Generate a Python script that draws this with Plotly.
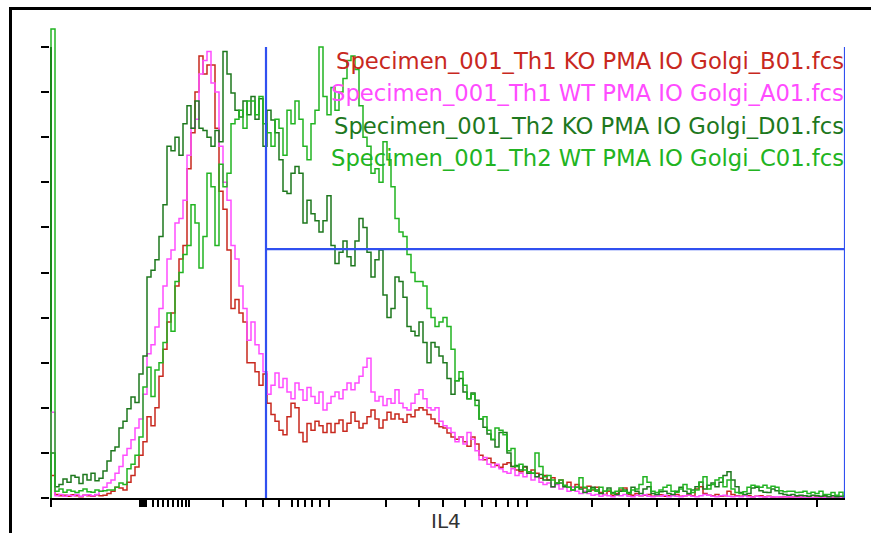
import plotly.graph_objects as go

# ---------------- data (histogram counts, % of max, one value per channel bin) -------------
n_bins = 199

th1_ko = [  # red  Specimen_001_Th1 KO PMA IO Golgi_B01.fcs
    5.0, 0.8, 0.5, 0.6, 0.4, 0.7, 0.5, 0.3, 0.6, 0.5,
    0.4, 0.7, 0.5, 0.6, 1.0, 1.5, 2.4, 2.2, 1.8, 3.5,
    5.0, 6.9, 9.5, 12.5, 18, 16, 20, 27, 33, 39,
    41, 47, 53, 56, 73, 81, 90, 98, 94, 96,
    96, 82, 68, 64, 55, 42, 44, 41, 39, 30,
    30, 28, 25, 27.5, 21, 18.5, 17, 15, 14, 18,
    21, 20, 14.5, 12.5, 16.5, 15, 17, 16, 14.5, 16.5,
    14.5, 16.5, 17.3, 14.8, 16.6, 19, 17, 15.5, 16.5, 18,
    19.5, 17.5, 15.5, 17.3, 19, 17.5, 18.6, 17.5, 16.8, 18.5,
    18, 19.5, 20, 19.5, 18.5, 17.5, 16.5, 15.8, 15.5, 14.4,
    13.5, 13.0, 13.5, 12.5, 11.5, 13.5, 12, 9.5, 8.5, 8.8,
    7.8, 7.2, 6.8, 7.5, 7.8, 7.0, 6.2, 5.8, 6.9, 5.5,
    6.2, 5.5, 4.4, 5.0, 4.0, 4.5, 3.3, 4.0, 2.6, 3.5,
    2.4, 3.0, 2.4, 2.2,
    2.6, 1.8, 2.4, 1.2, 0.8, 1.5, 0.6, 1.0, 1.8, 2.2,
    0.8, 0.6, 1.0, 0.5, 0.6, 0.8, 0.4, 0.5, 0.7, 0.4,
    0.5, 0.6, 0.8, 0.4, 0.5, 0.7, 0.5, 2.0, 2.5, 1.0,
    0.6, 0.5, 0.8, 0.4, 0.5, 1.5, 0.8, 0.5, 0.4, 0.6,
    0.5, 0.3, 0.4, 0.5, 0.3, 0.4, 0.2, 0.3, 0.2, 0.3,
    0.2, 0.2, 0.3, 0.2, 0.1, 0.2, 0.1, 0.2, 0.1, 0.2,
    0.1, 0.1, 0.2, 0.1, 0.1,
]

th1_wt = [  # magenta  Specimen_001_Th1 WT PMA IO Golgi_A01.fcs
    19, 0.5, 0.8, 0.4, 0.6, 0.5, 0.8, 0.4, 0.6, 0.7,
    0.5, 0.8, 1.5, 2.4, 3.3, 4.0, 5.5, 7, 9.5, 11,
    12.9, 15.5, 17.5, 23, 32, 34, 37.9, 42, 47, 53,
    55, 61, 62, 66, 76, 82, 84, 94, 97, 99,
    92, 90, 78, 70, 66, 56, 53, 47, 42, 35,
    39, 34, 32, 28, 23, 25, 27.7, 24.5, 26.5, 23.5,
    22, 25.5, 24, 21.7, 24.5, 22.5, 21, 23.5, 19.5, 21,
    22.5, 23.5, 22, 24, 25.5, 24, 25.5, 27, 29, 31,
    23.5, 21.5, 22.5, 20.5, 22, 21, 24, 21, 20, 19.5,
    21, 23, 24, 22, 20, 19.5, 20, 17, 16, 15.5,
    14.5, 12.5, 13.5, 12.0, 14.5, 13, 10.5, 8.5, 9, 7.5,
    6.9, 7.5, 6.5, 5.8, 5.5, 6.5, 5.0, 5.5, 4.7, 5.5,
    4.0, 4.7, 3.5, 3.0, 3.3, 2.4, 3.0, 2.0, 2.5, 1.5,
    2.4, 1.5, 1.0, 1.5,
    1.0, 0.6, 0.8, 0.4, 0.7, 0.5, 0.3, 0.6, 0.5, 0.8,
    0.4, 0.3, 0.6, 0.5, 0.7, 0.4, 0.3, 0.5, 0.4, 0.6,
    0.3, 0.5, 0.4, 0.3, 0.5, 0.6, 0.4, 0.3, 0.5, 0.8,
    0.6, 0.4, 0.3, 0.5, 0.6, 0.4, 0.3, 0.4, 0.3, 0.5,
    0.3, 0.2, 0.4, 0.3, 0.2, 0.3, 0.2, 0.3, 0.2, 0.2,
    0.3, 0.2, 0.1, 0.2, 0.1, 0.2, 0.1, 0.1, 0.2, 0.1,
    0.1, 0.2, 0.1, 0.1, 0.1,
]

th2_ko = [  # dark green  Specimen_001_Th2 KO PMA IO Golgi_D01.fcs
    10, 2.5, 3.0, 4.2, 3.5, 5.0, 4.6, 3.2, 5.2, 4.0,
    5.5, 3.8, 4.4, 6.0, 8.2, 10.5, 11.3, 15.5, 17.0, 19.8,
    22.4, 21.2, 27.5, 31.5, 49, 50.5, 52.8, 58, 65, 78,
    77, 80, 76, 83, 87, 82, 88, 82, 81.5, 80,
    78, 81.5, 79, 99, 94, 89.8, 86, 84.5, 88, 85,
    89, 84, 88.5, 78, 86, 83.8, 81, 75, 68, 67.5,
    72, 73.5, 72, 61, 66, 63, 61.5, 59, 61.5, 67,
    56, 52, 54.5, 57, 53.5, 51.5, 57, 62, 60, 54.5,
    49, 52.8, 55, 45, 40, 42, 49, 48, 44.5, 38,
    37, 36, 39, 34.5, 30, 34.5, 33.5, 31.5, 30, 26.5,
    23, 26, 26.5, 23.5, 22, 23.3, 21.7, 17.5, 15.7, 14.2,
    12.9, 11.3, 14.5, 14.5, 10, 7, 7.2, 6.2, 7, 5.5,
    5.5, 4.7, 5.2, 4.0, 4.0, 2.5, 3.2, 3.3, 2.5, 2.4,
    1.8, 2.4, 2.0, 1.2,
    1.5, 2.4, 1.8, 1.0, 1.5, 2.2, 1.2, 0.8, 1.5, 1.8,
    1.2, 2.4, 1.5, 1.0, 2.0, 2.5, 1.0, 0.8, 1.4, 1.5,
    1.0, 0.8, 1.5, 2.4, 1.5, 1.0, 1.8, 2.5, 3.5, 2.0,
    2.8, 3.3, 2.5, 3.5, 5.0, 5.8, 4.0, 2.5, 1.2, 0.8,
    1.0, 2.2, 2.4, 1.6, 1.3, 1.2, 2.0, 1.6, 1.0, 0.8,
    0.6, 0.8, 0.5, 0.6, 0.5, 0.4, 0.6, 0.5, 0.4, 0.5,
    0.3, 0.5, 0.3, 0.4, 0.3,
]

th2_wt = [  # green  Specimen_001_Th2 WT PMA IO Golgi_C01.fcs
    104, 1.5, 2.0, 1.3, 1.8, 1.5, 1.2, 1.6, 2.0, 1.4,
    1.3, 1.8, 1.5, 1.6, 1.8, 1.8, 2.4, 3.3, 3.0, 6.5,
    7.5, 9.5, 13.5, 24.6, 29, 22.5, 28.4, 30, 34.5, 41,
    37, 48, 50, 54, 56, 65, 61, 51, 58, 72,
    69, 56, 74, 69, 72, 83, 84, 86, 82, 88,
    88, 85, 89, 83, 81, 78, 84, 82, 76, 86,
    83, 88, 84, 78, 75, 83, 86, 100, 89, 85,
    91, 86, 90, 93, 97, 98, 95, 87, 80, 78,
    72, 73, 70, 79, 75, 69, 62, 59, 58, 54,
    50, 48, 48, 47, 42, 40, 38, 39, 40, 38,
    33, 26, 28, 25, 22, 23, 20.5, 17.5, 18, 15,
    13, 15.5, 15, 14, 10.5, 11, 7, 7.5, 6.2, 5.8,
    5.5, 10, 7, 4.7, 5.0, 4, 3.3, 4, 2.8, 2.4,
    1.8, 2.4, 4.5, 2.4,
    1.8, 2.0, 1.5, 2.4, 1.5, 1.8, 1.0, 1.5, 2.2, 1.5,
    1.0, 1.8, 2.0, 3.0, 4.7, 3.5, 1.5, 1.2, 1.8, 2.4,
    2.8, 1.5, 1.3, 2.0, 3.0, 2.0, 1.2, 1.8, 3.5, 4.7,
    2.0, 3.0, 4.0, 4.5, 2.5, 4.0, 2.0, 1.2, 1.0, 1.4,
    2.4, 2.8, 2.6, 2.4, 2.8, 2.2, 2.6, 2.4, 1.6, 1.4,
    1.5, 1.5, 1.2, 1.3, 1.5, 1.0, 1.3, 1.0, 1.5, 0.8,
    0.8, 1.2, 0.6, 1.3, 0.5,
]

series_names = [
    "Specimen_001_Th1 KO PMA IO Golgi_B01.fcs",
    "Specimen_001_Th1 WT PMA IO Golgi_A01.fcs",
    "Specimen_001_Th2 KO PMA IO Golgi_D01.fcs",
    "Specimen_001_Th2 WT PMA IO Golgi_C01.fcs",
]
series_values = [th1_ko, th1_wt, th2_ko, th2_wt]
series_colors = ["#C8281E", "#FF4CFF", "#1E781E", "#22B422"]

# gate (blue) : starts at channel, ends at channel, horizontal level (% of max)
gate_x_start = 53.75
gate_x_end = 198.5
gate_y = 55.2

# x axis tick marks (channel positions) of the logicle-like axis
x_tick_channels = [0, 22.25, 22.5, 22.75, 23.0, 23.25, 23.5, 23.75, 25.5, 26.75, 28.0,
                   29.25, 30.5, 31.75, 32.75, 33.75, 34.5, 43.0, 48.75, 53.0, 57.0,
                   60.25, 61.75, 63.5, 65.25, 67.25, 69.5, 83.75, 92.0, 98.0, 103.5,
                   107.75, 111.25, 114.25, 116.75, 119.0, 135.25, 144.5, 151.5, 157.0,
                   161.5, 165.25, 168.75, 171.5, 174.0, 191.5]
y_tick_values = [0, 10, 20, 30, 40, 50, 60, 70, 80, 90, 100]

# ---------------- figure ----------------
fig = go.Figure()
for name, vals, col in zip(series_names, series_values, series_colors):
    assert len(vals) == n_bins, (name, len(vals))
    xs = [0] + list(range(n_bins)) + [n_bins]
    ys = [0] + vals + [vals[-1]]
    fig.add_trace(go.Scatter(x=xs, y=ys, mode="lines", name=name,
                             line=dict(color=col, width=1.5, shape="hv"),
                             showlegend=False, hoverinfo="skip"))

W, H = 871, 533
ml, mr, mt, mb = 50, 26, 20, 35
pw, ph = W - ml - mr, H - mt - mb


def px_x(p):
    return (p - ml) / pw


def px_y(p):
    return (H - mb - p) / ph


blue = "#3050F0"
shapes = [
    # y axis line
    dict(type="line", xref="x", yref="y", x0=0, x1=0, y0=0, y1=100,
         line=dict(color="black", width=2), layer="below"),
    # gate
    dict(type="line", xref="x", yref="y", x0=gate_x_start, x1=gate_x_start, y0=0, y1=100,
         line=dict(color=blue, width=2.2)),
    dict(type="line", xref="x", yref="y", x0=gate_x_end, x1=gate_x_end, y0=0, y1=100,
         line=dict(color=blue, width=2.2)),
    dict(type="line", xref="x", yref="y", x0=gate_x_start, x1=gate_x_end, y0=gate_y, y1=gate_y,
         line=dict(color=blue, width=2.2)),
    # outer frame (left and top)
    dict(type="line", xref="paper", yref="paper", x0=px_x(10.5), x1=px_x(10.5),
         y0=px_y(7), y1=px_y(545), line=dict(color="black", width=3)),
    dict(type="line", xref="paper", yref="paper", x0=px_x(9), x1=px_x(875),
         y0=px_y(8.5), y1=px_y(8.5), line=dict(color="black", width=3)),
]

annotations = []
label_y_px = [61, 93, 126, 158]
for name, col, yp in zip(series_names, series_colors, label_y_px):
    annotations.append(dict(text=name, xref="paper", yref="paper", x=px_x(846), y=px_y(yp),
                            xanchor="right", yanchor="middle", showarrow=False,
                            font=dict(family="DejaVu Sans", size=22.7, color=col)))
annotations.append(dict(text="IL4", xref="paper", yref="paper", x=px_x(446), y=px_y(521),
                        xanchor="center", yanchor="middle", showarrow=False,
                        font=dict(family="DejaVu Sans", size=20, color="#333333")))

fig.update_layout(
    width=W, height=H, margin=dict(l=ml, r=mr, t=mt, b=mb, pad=0),
    paper_bgcolor="white", plot_bgcolor="white",
    shapes=shapes, annotations=annotations, showlegend=False,
)
fig.update_xaxes(range=[-0.25, -0.25 + pw / 4.0], showgrid=False, zeroline=False,
                 showline=True, linecolor="black", linewidth=2,
                 ticks="outside", ticklen=7, tickwidth=1.5, tickcolor="black",
                 tickvals=x_tick_channels, showticklabels=False)
fig.update_yaxes(range=[0, ph / 4.51], showgrid=False, zeroline=False, showline=False,
                 ticks="outside", ticklen=8, tickwidth=2, tickcolor="black",
                 tickvals=y_tick_values, showticklabels=False)

fig.write_html("out.html")
